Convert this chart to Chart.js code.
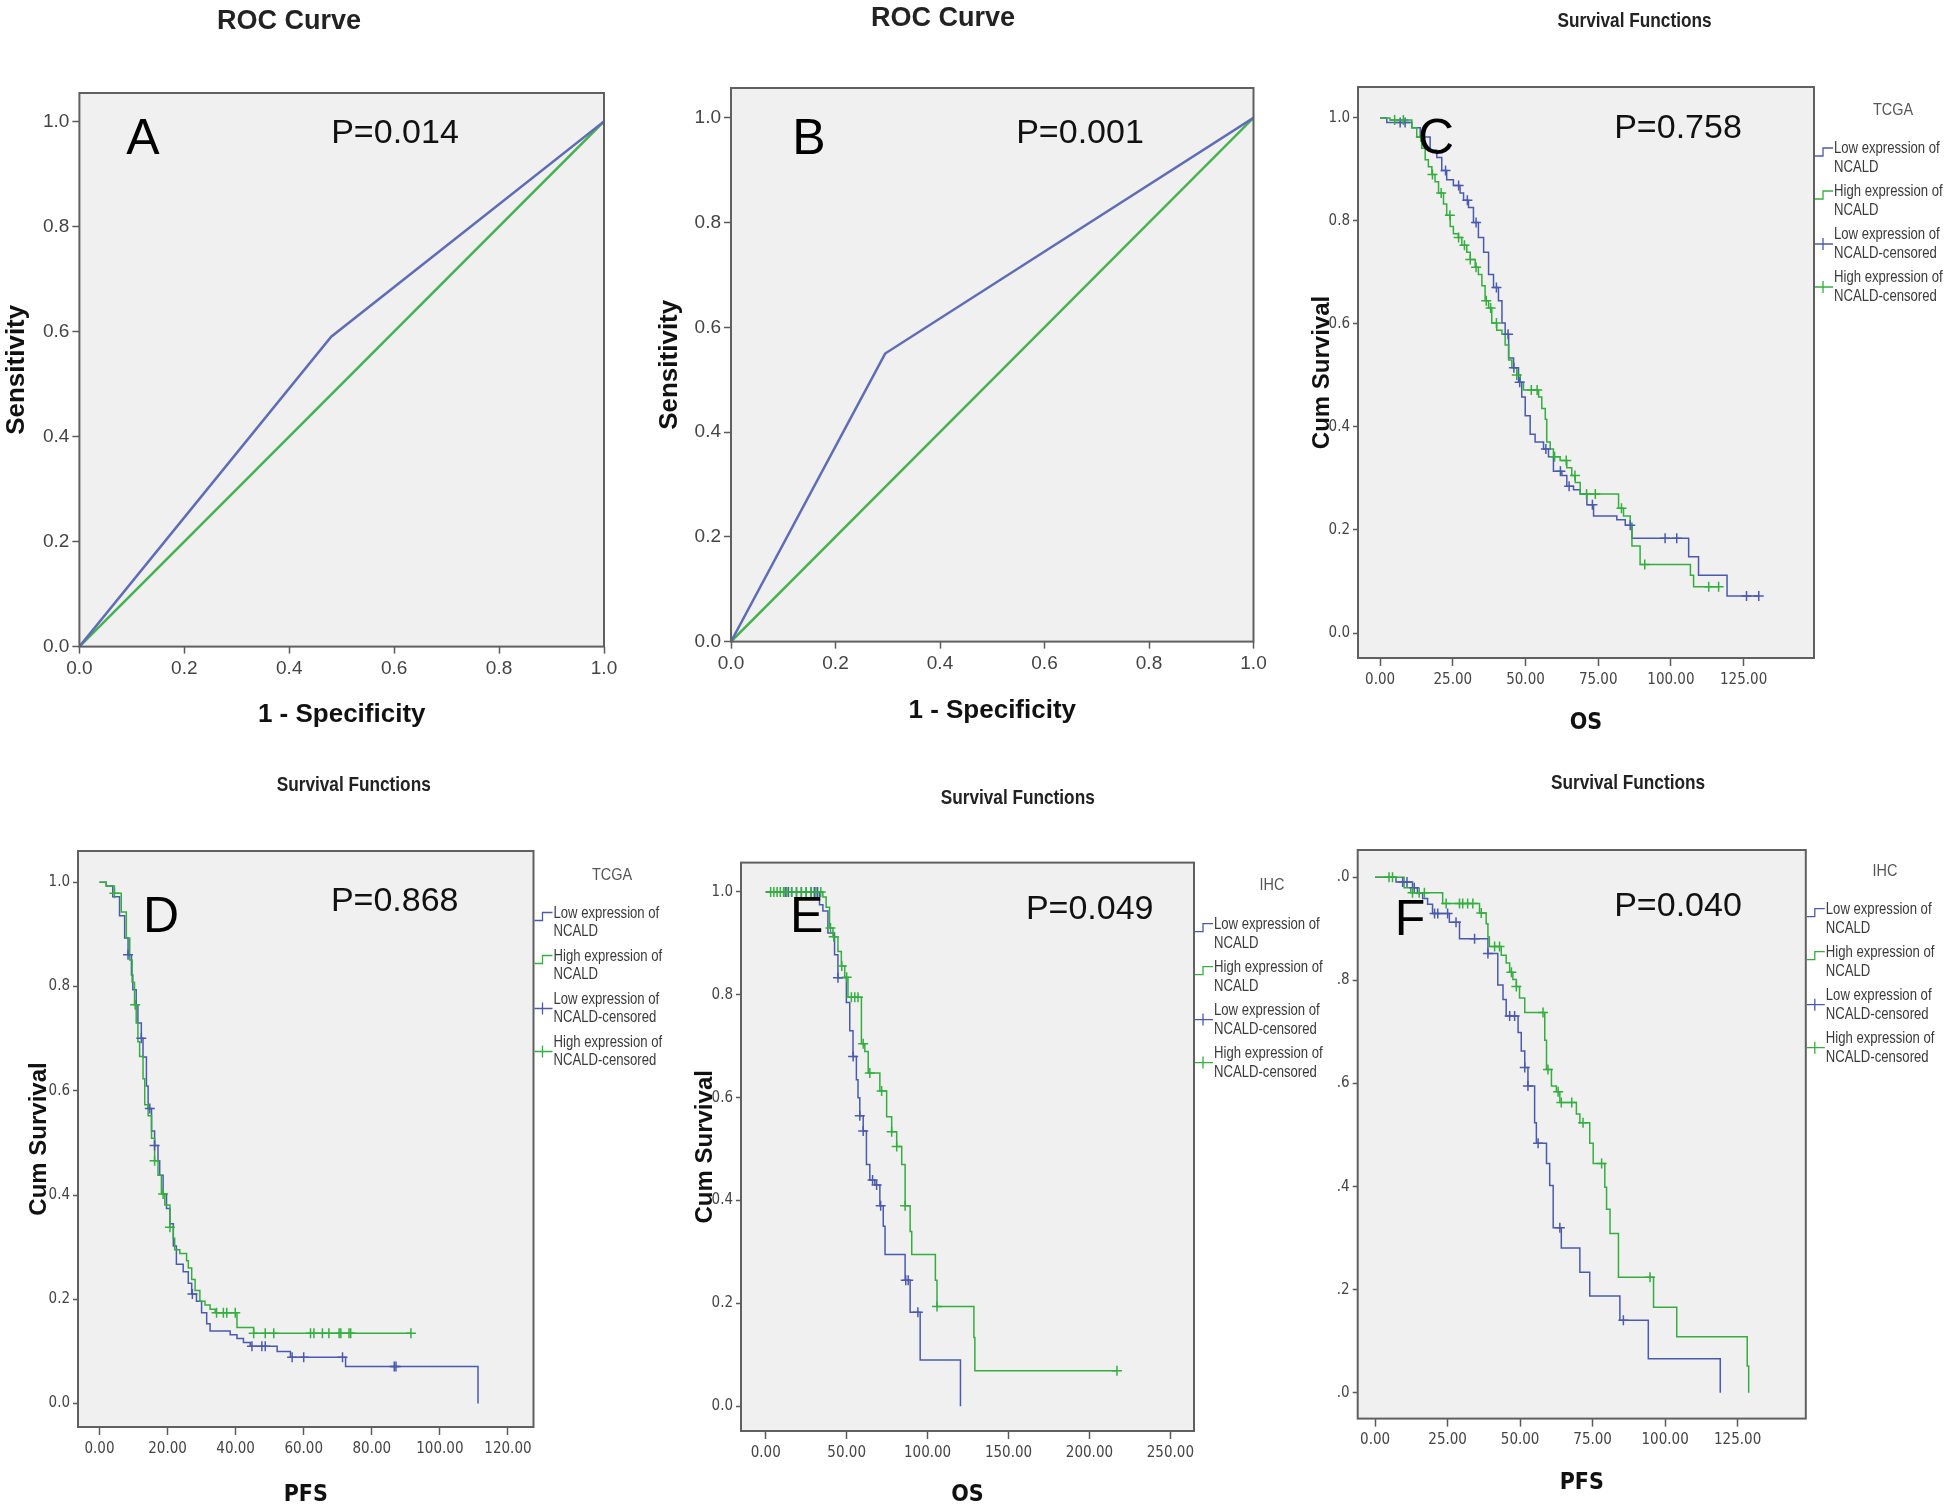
<!DOCTYPE html>
<html>
<head>
<meta charset="utf-8">
<title>NCALD - ROC and survival curves</title>
<script src="https://cdn.jsdelivr.net/npm/chart.js@4.4.1/dist/chart.umd.min.js"></script>
<style>
    html, body { margin: 0; padding: 0; background: #ffffff; }
    #figure { position: relative; width: 1946px; height: 1511px; overflow: hidden; background: #ffffff; }
    #figure canvas { position: absolute; }
</style>
</head>
<body>
<div id="figure">
    <canvas id="panelA"></canvas>
    <canvas id="panelB"></canvas>
    <canvas id="panelC"></canvas>
    <canvas id="panelD"></canvas>
    <canvas id="panelE"></canvas>
    <canvas id="panelF"></canvas>
</div>
<script>
// ---- ROC data (1 - specificity / sensitivity) ----
const rocA_fpr = [0, 0.48, 1];
const rocA_tpr = [0, 0.59, 1];
const rocB_fpr = [0, 0.295, 1];
const rocB_tpr = [0, 0.55, 1];
const rocRef_x = [0, 1];
const rocRef_y = [0, 1];
const rocTicks = [0, 0.2, 0.4, 0.6, 0.8, 1.0];
const rocTickLabels = ['0.0', '0.2', '0.4', '0.6', '0.8', '1.0'];

// ---- C: TCGA overall survival ----
const cLowTime = [0, 2.3, 10.9, 13.8, 17.2, 19.5, 21.2, 22.9, 25.2, 27.5, 28.7, 30.4, 32.1, 33.8, 35.6, 37.3, 39.0, 40.7, 41.9, 43.0, 44.2, 45.9, 47.6, 48.7, 49.9, 51.6, 53.3, 56.2, 57.9, 59.6, 62.5, 64.2, 66.5, 68.8, 71.1, 73.4, 81.4, 84.3, 86.6, 106.1, 109.5, 119.3, 130.2];
const cLowSurv = [1, 0.991, 0.981, 0.963, 0.937, 0.923, 0.898, 0.880, 0.869, 0.854, 0.840, 0.826, 0.797, 0.768, 0.739, 0.696, 0.671, 0.645, 0.602, 0.580, 0.534, 0.515, 0.487, 0.458, 0.422, 0.386, 0.371, 0.357, 0.342, 0.314, 0.306, 0.285, 0.278, 0.270, 0.249, 0.227, 0.220, 0.209, 0.184, 0.148, 0.112, 0.072, 0.072];
const cLowCensored = [6.9, 8.6, 22.5, 27, 30, 33, 40, 44, 46, 48, 57, 62, 65, 73, 86, 98, 102, 126, 130.2];
const cHighTime = [0, 3.4, 10.9, 12.6, 14.3, 15.5, 16.6, 17.8, 18.9, 20.1, 21.8, 22.9, 24.1, 25.2, 26.9, 28.1, 29.8, 31.0, 32.7, 33.8, 35.0, 36.1, 37.3, 38.4, 40.1, 41.9, 43.0, 44.2, 45.3, 47.0, 48.2, 49.3, 54.5, 55.6, 56.8, 57.3, 58.5, 59.6, 61.9, 64.2, 65.9, 67.1, 68.8, 82.0, 83.7, 86.0, 86.6, 89.4, 106.7, 107.8, 116.4];
const cHighSurv = [1, 0.996, 0.981, 0.963, 0.941, 0.919, 0.905, 0.890, 0.876, 0.854, 0.833, 0.811, 0.789, 0.775, 0.768, 0.753, 0.739, 0.725, 0.710, 0.696, 0.674, 0.645, 0.631, 0.602, 0.588, 0.580, 0.559, 0.530, 0.515, 0.501, 0.487, 0.472, 0.458, 0.436, 0.415, 0.371, 0.357, 0.342, 0.335, 0.321, 0.306, 0.292, 0.270, 0.242, 0.227, 0.213, 0.169, 0.133, 0.112, 0.090, 0.090];
const cHighCensored = [5, 8, 14, 18, 21, 24, 27, 29, 31, 33, 36.5, 38, 40, 47, 52, 54, 60, 64, 67, 71, 74, 83, 91, 113, 116.4];

// ---- D: TCGA progression-free survival ----
const dLowTime = [0, 2.0, 3.9, 5.9, 7.4, 8.4, 9.4, 9.8, 10.8, 11.3, 12.3, 12.8, 13.8, 14.3, 15.3, 16.2, 17.2, 17.7, 18.7, 19.7, 20.7, 21.7, 22.6, 24.6, 26.1, 27.1, 28.5, 30.0, 31.5, 32.5, 38.4, 40.4, 42.3, 44.3, 52.2, 56.1, 72.3, 111.2];
const dLowSurv = [1, 0.993, 0.972, 0.936, 0.893, 0.861, 0.822, 0.794, 0.765, 0.730, 0.701, 0.665, 0.609, 0.566, 0.523, 0.495, 0.466, 0.438, 0.402, 0.374, 0.345, 0.302, 0.267, 0.253, 0.231, 0.210, 0.196, 0.174, 0.153, 0.139, 0.132, 0.125, 0.117, 0.110, 0.100, 0.089, 0.071, 0];
const dLowCensored = [8.4, 12.3, 14.8, 16.2, 27.3, 44.8, 47.7, 48.7, 56.6, 60, 71.4, 86.6, 87.1];
const dHighTime = [0, 2.0, 4.4, 6.4, 7.9, 8.9, 9.6, 10.3, 10.8, 11.3, 11.8, 12.8, 13.3, 14.3, 15.3, 16.2, 17.2, 18.2, 19.2, 20.7, 21.7, 22.1, 23.6, 25.6, 26.1, 27.1, 28.1, 29.5, 31.0, 32.5, 34.0, 40.4, 45.3, 91.5];
const dHighSurv = [1, 0.993, 0.979, 0.943, 0.893, 0.851, 0.808, 0.765, 0.730, 0.694, 0.666, 0.623, 0.573, 0.552, 0.509, 0.466, 0.438, 0.402, 0.381, 0.338, 0.317, 0.295, 0.288, 0.274, 0.260, 0.238, 0.217, 0.196, 0.189, 0.181, 0.174, 0.146, 0.135, 0.135];
const dHighCensored = [4.4, 10.5, 16.2, 18.7, 20.7, 34.4, 36.4, 37.4, 39.9, 45.3, 48.7, 51.2, 62, 63, 65.5, 67.4, 70.4, 70.9, 73.3, 73.8, 91.5];

// ---- E: IHC overall survival ----
const eLowTime = [0, 33.2, 35.3, 38.4, 42.5, 44.6, 49.8, 51.9, 53.9, 56.0, 57.0, 58.1, 60.2, 62.2, 64.3, 67.4, 70.5, 72.6, 73.7, 86.1, 89.2, 95.4, 120.3];
const eLowSurv = [1, 0.975, 0.963, 0.92, 0.878, 0.833, 0.785, 0.73, 0.68, 0.635, 0.60, 0.565, 0.535, 0.47, 0.44, 0.43, 0.39, 0.35, 0.295, 0.245, 0.183, 0.09, 0];
const eLowCensored = [12, 14, 16, 19, 22, 25, 28, 30, 32, 44.6, 54, 58.1, 60.2, 66, 68.5, 71, 86.5, 88, 94];
const eHighTime = [0, 35.3, 37.3, 39.4, 41.5, 44.6, 46.7, 48.8, 50.8, 59.1, 61.2, 63.3, 70.5, 74.7, 77.8, 80.9, 84.0, 86.1, 89.2, 90.2, 104.8, 105.8, 128.6, 129.2, 217];
const eHighSurv = [1, 0.99, 0.97, 0.93, 0.913, 0.884, 0.856, 0.834, 0.795, 0.705, 0.690, 0.648, 0.613, 0.563, 0.534, 0.505, 0.47, 0.39, 0.34, 0.295, 0.245, 0.194, 0.134, 0.069, 0.069];
const eHighCensored = [3, 5, 7, 9, 11, 13, 16, 19, 22, 25, 28, 31, 34, 40, 42, 47, 50, 52.9, 55, 57, 60.2, 64.3, 71.6, 77.8, 80.9, 86.1, 105.8, 217];

// ---- F: IHC progression-free survival ----
const fLowTime = [0, 7.2, 12.9, 14.6, 16.4, 18.1, 19.8, 25.6, 29.1, 38.9, 42.3, 44.1, 45.2, 49.3, 50.4, 51.6, 52.7, 55.0, 55.6, 59.1, 60.2, 61.4, 64.2, 70.6, 74.0, 84.4, 94.2, 119.0];
const fLowSurv = [1, 0.991, 0.98, 0.969, 0.959, 0.948, 0.93, 0.913, 0.881, 0.852, 0.791, 0.763, 0.731, 0.699, 0.663, 0.631, 0.595, 0.524, 0.484, 0.445, 0.402, 0.32, 0.281, 0.234, 0.188, 0.141, 0.066, 0];
const fLowCensored = [9.5, 11, 13.5, 20.5, 21.6, 25, 27.9, 34.3, 38.9, 46.4, 48.1, 51.6, 52.7, 56.2, 63.7, 85.6];
const fHighTime = [0, 10.0, 12.3, 23.3, 36.0, 38.3, 38.9, 39.4, 43.5, 45.2, 46.4, 47.5, 48.7, 49.8, 51.6, 58.5, 59.1, 60.8, 62.5, 63.7, 69.4, 70.6, 74.0, 75.2, 79.2, 79.8, 81.0, 83.9, 96.0, 104.0, 128.3, 128.8];
const fHighSurv = [1, 0.98, 0.97, 0.949, 0.931, 0.91, 0.884, 0.866, 0.849, 0.834, 0.816, 0.802, 0.788, 0.766, 0.738, 0.684, 0.627, 0.595, 0.584, 0.563, 0.541, 0.524, 0.484, 0.445, 0.399, 0.356, 0.309, 0.224, 0.166, 0.109, 0.052, 0];
const fHighCensored = [4.8, 6.0, 12.9, 15.2, 17, 24.5, 29.1, 30.2, 31.9, 33.7, 36.6, 41.2, 42.9, 47, 48.7, 57.9, 59.6, 63.1, 64.2, 67.8, 71.7, 78.1, 94.8];

// ---- axis ticks ----
const survYTicks = [0, 0.2, 0.4, 0.6, 0.8, 1.0];
const survYLabels = ['0.0', '0.2', '0.4', '0.6', '0.8', '1.0'];
const survYLabelsCut = ['.0', '.2', '.4', '.6', '.8', '.0'];
const osTcgaTicks = [0, 25, 50, 75, 100, 125];
const osTcgaLabels = ['0.00', '25.00', '50.00', '75.00', '100.00', '125.00'];
const pfsTcgaTicks = [0, 20, 40, 60, 80, 100, 120];
const pfsTcgaLabels = ['0.00', '20.00', '40.00', '60.00', '80.00', '100.00', '120.00'];
const osIhcTicks = [0, 50, 100, 150, 200, 250];
const osIhcLabels = ['0.00', '50.00', '100.00', '150.00', '200.00', '250.00'];
const pfsIhcTicks = [0, 25, 50, 75, 100, 125];
const pfsIhcLabels = ['0.00', '25.00', '50.00', '75.00', '100.00', '125.00'];

const legendLabels = [
    ['Low expression of', 'NCALD'],
    ['High expression of', 'NCALD'],
    ['Low expression of', 'NCALD-censored'],
    ['High expression of', 'NCALD-censored']
];

// ---- styling ----
const ROC_BLUE = '#5f6cb6';
const ROC_GREEN = '#45b24f';
const KM_BLUE = '#4a5aae';
const KM_GREEN = '#34ae3e';
const SANS = "'Liberation Sans', Arial, sans-serif";
const NARROW = "'Liberation Sans Narrow', 'Arial Narrow', 'DejaVu Sans Condensed', sans-serif";

/**
 * Page layout of every panel (page pixels): canvas box, plot frame, text anchors
 */
const PANELS = {
    A: { box: [0, 0, 650, 750], frame: { l: 79.4, t: 93, r: 604, b: 646.6 }, yTitleX: 17, xTitleY: 715,
         title: [289, 22], letter: [143, 140], pValue: [395, 134] },
    B: { box: [650, 0, 650, 750], frame: { l: 731, t: 88, r: 1253.5, b: 641.6 }, yTitleX: 670, xTitleY: 711,
         title: [943, 19], letter: [809, 140], pValue: [1080, 134] },
    C: { box: [1300, 0, 646, 750], frame: { l: 1358, t: 87, r: 1814, b: 658 }, yTitleX: 1322, xTitleY: 723.5,
         title: [1634.5, 21], letter: [1436, 140], pValue: [1678, 129], legendHead: [1893, 110], legendTop: 149 },
    D: { box: [0, 750, 680, 761], frame: { l: 78, t: 851, r: 533.5, b: 1427 }, yTitleX: 39.7, xTitleY: 1495.5,
         title: [353.7, 785.6], letter: [161, 918], pValue: [394.7, 902], legendHead: [612, 875], legendTop: 913.5 },
    E: { box: [680, 750, 660, 761], frame: { l: 741, t: 862.6, r: 1194, b: 1431 }, yTitleX: 705, xTitleY: 1495.5,
         title: [1017.7, 798], letter: [806.7, 918.4], pValue: [1089.7, 909.7], legendHead: [1272, 885], legendTop: 924.6 },
    F: { box: [1330, 750, 616, 761], frame: { l: 1357.7, t: 850, r: 1805.8, b: 1418.6 }, yTitleX: null, xTitleY: 1483,
         title: [1628, 783], letter: [1410, 921], pValue: [1678, 907], legendHead: [1885, 871], legendTop: 909.7 }
};

/**
 * Turn parallel arrays into {x, y} points
 */
function toPoints(xs, ys) {
    return xs.map((x, i) => ({ x: x, y: ys[i] }));
}

/**
 * Censor marks sit on the step curve at their own time
 */
function censorPoints(times, stepTime, stepSurv) {
    return times.map(t => {
        let s = stepSurv[0];
        for (let i = 0; i < stepTime.length; i++) {
            if (stepTime[i] <= t) s = stepSurv[i];
        }
        return { x: t, y: s };
    });
}

/**
 * Fill plot background and stroke the frame round the chart area
 */
const framePlugin = {
    id: 'spssFrame',
    beforeDraw(chart, args, opts) {
        const { ctx, chartArea: a } = chart;
        ctx.save();
        ctx.fillStyle = opts.background;
        ctx.fillRect(a.left, a.top, a.right - a.left, a.bottom - a.top);
        ctx.restore();
    },
    afterDatasetsDraw(chart, args, opts) {
        const { ctx, chartArea: a } = chart;
        ctx.save();
        ctx.strokeStyle = opts.color;
        ctx.lineWidth = opts.width;
        ctx.strokeRect(a.left, a.top, a.right - a.left, a.bottom - a.top);
        ctx.restore();
    }
};

function drawLabel(ctx, text, x, y, font, color, squeeze, align) {
    ctx.save();
    ctx.font = font;
    ctx.fillStyle = color;
    ctx.textAlign = align || 'center';
    ctx.textBaseline = 'middle';
    ctx.translate(x, y);
    ctx.scale(squeeze || 1, 1);
    ctx.fillText(text, 0, 0);
    ctx.restore();
}

/**
 * Title, panel letter, P value and the SPSS style legend
 */
const panelTextPlugin = {
    id: 'panelText',
    afterDraw(chart, args, o) {
        const ctx = chart.ctx;
        const ox = o.origin[0], oy = o.origin[1];
        drawLabel(ctx, o.title, o.titlePos[0] - ox, o.titlePos[1] - oy, o.titleFont, '#222', o.titleSqueeze);
        drawLabel(ctx, o.letter, o.letterPos[0] - ox, o.letterPos[1] - oy, '50px ' + SANS, '#000');
        drawLabel(ctx, o.pValue, o.pValuePos[0] - ox, o.pValuePos[1] - oy, '34px ' + SANS, '#111');

        if (!o.legend) return;
        const lg = o.legend;
        drawLabel(ctx, lg.head, lg.headPos[0] - ox, lg.headPos[1] - oy, '17px ' + SANS, '#555', 0.85);
        const x0 = lg.frameRight - ox;
        const textX = x0 + 20;
        lg.labels.forEach((lines, i) => {
            const y0 = lg.top - oy + i * 43;
            const color = i % 2 === 0 ? KM_BLUE : KM_GREEN;
            ctx.save();
            ctx.strokeStyle = color;
            ctx.lineWidth = 1.3;
            ctx.beginPath();
            if (i < 2) {
                ctx.moveTo(x0 + 1, y0 + 7);
                ctx.lineTo(x0 + 9, y0 + 7);
                ctx.lineTo(x0 + 9, y0 - 1);
                ctx.lineTo(textX - 1, y0 - 1);
            } else {
                ctx.moveTo(x0 + 1, y0 + 9);
                ctx.lineTo(textX - 1, y0 + 9);
                ctx.moveTo(x0 + 9, y0 + 3);
                ctx.lineTo(x0 + 9, y0 + 15);
                ctx.moveTo(x0 + 4, y0 + 9);
                ctx.lineTo(x0 + 14, y0 + 9);
            }
            ctx.stroke();
            ctx.restore();
            lines.forEach((line, j) => {
                drawLabel(ctx, line, textX, y0 + j * 18.5, '16px ' + SANS, '#3a3a3a', 0.82, 'left');
            });
        });
    }
};

/**
 * Fixed-size linear axis: explicit ticks, outward tick marks, no grid
 */
function buildAxis(opt) {
    return {
        type: 'linear',
        min: opt.min,
        max: opt.max,
        afterBuildTicks: scale => { scale.ticks = opt.ticks.map(v => ({ value: v })); },
        afterFit: scale => {
            if (opt.horizontal) {
                scale.height = opt.size;
                scale.paddingLeft = 0;
                scale.paddingRight = 0;
            } else {
                scale.width = opt.size;
                scale.paddingTop = 0;
                scale.paddingBottom = 0;
            }
        },
        border: { display: false },
        grid: { drawOnChartArea: false, drawTicks: true, tickLength: opt.tickLength, tickWidth: 1.5, tickColor: '#5a5a5a' },
        ticks: {
            autoSkip: false, maxRotation: 0, minRotation: 0,
            padding: opt.tickPadding, color: '#444', font: opt.tickFont,
            callback: (value, index) => opt.labels[index]
        },
        title: { display: !!opt.title, text: opt.title || '', color: '#111', font: opt.titleFont, padding: 0 }
    };
}

/**
 * Work out layout padding and axis sizes so the frame lands on its page position
 */
function computeLayout(p, yTitleSize, xTitleSize) {
    const [bx, by, bw, bh] = p.box;
    const f = p.frame;
    const yAxisLeft = p.yTitleX !== null ? p.yTitleX - 0.6 * yTitleSize : f.l - 40;
    const xAxisBottom = p.xTitleY + 0.6 * xTitleSize;
    return {
        padding: { left: yAxisLeft - bx, top: f.t - by, right: bx + bw - f.r, bottom: by + bh - xAxisBottom },
        yWidth: f.l - yAxisLeft,
        xHeight: xAxisBottom - f.b
    };
}

function placeCanvas(id, box) {
    const canvas = document.getElementById(id);
    canvas.width = box[2];
    canvas.height = box[3];
    canvas.style.left = box[0] + 'px';
    canvas.style.top = box[1] + 'px';
    canvas.style.width = box[2] + 'px';
    canvas.style.height = box[3] + 'px';
    return canvas;
}

function baseOptions(p, lay, scales, text) {
    return {
        responsive: false,
        animation: false,
        events: [],
        layout: { padding: lay.padding },
        plugins: {
            legend: { display: false },
            tooltip: { enabled: false },
            spssFrame: { background: '#f0f0f0', color: '#606060', width: 2 },
            panelText: text
        },
        scales: scales
    };
}

/**
 * ROC panel: curve plus the reference diagonal
 */
function makeRocPanel(id, p, fpr, tpr, letter, pValue, yMax) {
    const titleSize = 26;
    const lay = computeLayout(p, titleSize, titleSize);
    const canvas = placeCanvas(id, p.box);
    const tickFont = { family: SANS, size: 19 };
    const titleFont = { family: SANS, size: titleSize, weight: 'bold' };
    return new Chart(canvas, {
        type: 'line',
        data: {
            datasets: [
                { data: toPoints(fpr, tpr), borderColor: ROC_BLUE, borderWidth: 2.5, pointRadius: 0, tension: 0 },
                { data: toPoints(rocRef_x, rocRef_y), borderColor: ROC_GREEN, borderWidth: 2.5, pointRadius: 0, tension: 0 }
            ]
        },
        options: baseOptions(p, lay, {
            x: buildAxis({ horizontal: true, min: 0, max: 1, ticks: rocTicks, labels: rocTickLabels, size: lay.xHeight,
                           tickLength: 7, tickPadding: 4, tickFont: tickFont, title: '1 - Specificity', titleFont: titleFont }),
            y: buildAxis({ horizontal: false, min: 0, max: yMax, ticks: rocTicks, labels: rocTickLabels, size: lay.yWidth,
                           tickLength: 7, tickPadding: 3, tickFont: tickFont, title: 'Sensitivity', titleFont: titleFont })
        }, {
            origin: p.box, title: 'ROC Curve', titlePos: p.title, titleFont: 'bold 27px ' + SANS, titleSqueeze: 1,
            letter: letter, letterPos: p.letter, pValue: pValue, pValuePos: p.pValue
        })
    });
}

/**
 * Kaplan-Meier panel: two step curves with their censor marks
 */
function makeSurvivalPanel(id, p, s) {
    const yTitleSize = 24, xTitleSize = 23;
    const lay = computeLayout(p, yTitleSize, xTitleSize);
    const canvas = placeCanvas(id, p.box);
    const tickFont = { family: NARROW, size: 15 };
    const stepLine = (t, v, color, order) => ({
        data: toPoints(t, v), borderColor: color, borderWidth: 1.5, stepped: true, pointRadius: 0, order: order
    });
    const marks = (c, t, v, color, order) => ({
        data: censorPoints(c, t, v), showLine: false, pointStyle: 'cross', pointRadius: 5,
        pointBorderWidth: 1.5, pointBorderColor: color, borderColor: color, order: order
    });
    return new Chart(canvas, {
        type: 'line',
        data: {
            datasets: [
                stepLine(s.lowTime, s.lowSurv, KM_BLUE, 4),
                stepLine(s.highTime, s.highSurv, KM_GREEN, 3),
                marks(s.lowCens, s.lowTime, s.lowSurv, KM_BLUE, 2),
                marks(s.highCens, s.highTime, s.highSurv, KM_GREEN, 1)
            ]
        },
        options: baseOptions(p, lay, {
            x: buildAxis({ horizontal: true, min: s.xMin, max: s.xMax, ticks: s.xTicks, labels: s.xLabels, size: lay.xHeight,
                           tickLength: 8, tickPadding: 5, tickFont: tickFont, title: s.xTitle,
                           titleFont: { family: NARROW, size: xTitleSize, weight: 'bold' } }),
            y: buildAxis({ horizontal: false, min: s.yMin, max: s.yMax, ticks: survYTicks, labels: s.yLabels, size: lay.yWidth,
                           tickLength: 5, tickPadding: 3, tickFont: tickFont, title: s.yTitle,
                           titleFont: { family: SANS, size: yTitleSize, weight: 'bold' } })
        }, {
            origin: p.box, title: 'Survival Functions', titlePos: p.title, titleFont: 'bold 21px ' + SANS, titleSqueeze: 0.82,
            letter: s.letter, letterPos: p.letter, pValue: s.pValue, pValuePos: p.pValue,
            legend: { head: s.cohort, headPos: p.legendHead, frameRight: p.frame.r, top: p.legendTop, labels: legendLabels }
        })
    });
}

Chart.register(framePlugin, panelTextPlugin);

const charts = {};
charts.A = makeRocPanel('panelA', PANELS.A, rocA_fpr, rocA_tpr, 'A', 'P=0.014', 1.054);
charts.B = makeRocPanel('panelB', PANELS.B, rocB_fpr, rocB_tpr, 'B', 'P=0.001', 1.057);

charts.C = makeSurvivalPanel('panelC', PANELS.C, {
    lowTime: cLowTime, lowSurv: cLowSurv, lowCens: cLowCensored,
    highTime: cHighTime, highSurv: cHighSurv, highCens: cHighCensored,
    xMin: -7.6, xMax: 149.2, yMin: -0.0485, yMax: 1.06,
    xTicks: osTcgaTicks, xLabels: osTcgaLabels, yLabels: survYLabels,
    xTitle: 'OS', yTitle: 'Cum Survival', letter: 'C', pValue: 'P=0.758', cohort: 'TCGA'
});
charts.D = makeSurvivalPanel('panelD', PANELS.D, {
    lowTime: dLowTime, lowSurv: dLowSurv, lowCens: dLowCensored,
    highTime: dHighTime, highSurv: dHighSurv, highCens: dHighCensored,
    xMin: -6.3, xMax: 127.5, yMin: -0.045, yMax: 1.06,
    xTicks: pfsTcgaTicks, xLabels: pfsTcgaLabels, yLabels: survYLabels,
    xTitle: 'PFS', yTitle: 'Cum Survival', letter: 'D', pValue: 'P=0.868', cohort: 'TCGA'
});
charts.E = makeSurvivalPanel('panelE', PANELS.E, {
    lowTime: eLowTime, lowSurv: eLowSurv, lowCens: eLowCensored,
    highTime: eHighTime, highSurv: eHighSurv, highCens: eHighCensored,
    xMin: -15.3, xMax: 264.6, yMin: -0.048, yMax: 1.057,
    xTicks: osIhcTicks, xLabels: osIhcLabels, yLabels: survYLabels,
    xTitle: 'OS', yTitle: 'Cum Survival', letter: 'E', pValue: 'P=0.049', cohort: 'IHC'
});
charts.F = makeSurvivalPanel('panelF', PANELS.F, {
    lowTime: fLowTime, lowSurv: fLowSurv, lowCens: fLowCensored,
    highTime: fHighTime, highSurv: fHighSurv, highCens: fHighCensored,
    xMin: -6.0, xMax: 148.5, yMin: -0.05, yMax: 1.053,
    xTicks: pfsIhcTicks, xLabels: pfsIhcLabels, yLabels: survYLabelsCut,
    xTitle: 'PFS', yTitle: null, letter: 'F', pValue: 'P=0.040', cohort: 'IHC'
});
</script>
</body>
</html>
